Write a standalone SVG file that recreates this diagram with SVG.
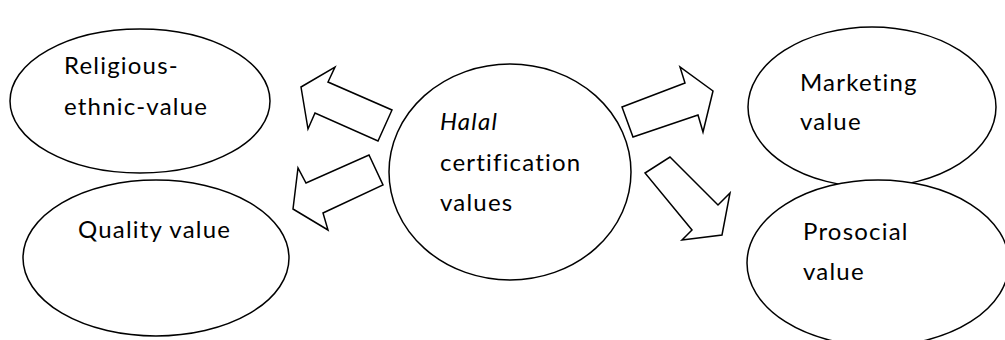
<svg xmlns="http://www.w3.org/2000/svg" width="1005" height="340" viewBox="0 0 1005 340">
<style>
.n{fill:#fff;stroke:#000;stroke-width:1.5}
.a{fill:#fff;stroke:#000;stroke-width:1.5;stroke-linejoin:miter}
text{font-family:Lato,"Open Sans",sans-serif;font-size:24px;letter-spacing:1.2px;fill:#000}
</style>
<rect width="1005" height="340" fill="#fff"/>
<g id="religious"><ellipse class="n" cx="140" cy="101" rx="130" ry="72"/><text x="64" y="74">Religious-</text><text x="64" y="115">ethnic-value</text></g>
<g id="quality"><ellipse class="n" cx="156" cy="258" rx="133" ry="78"/><text x="78" y="238">Quality value</text></g>
<g id="halal"><ellipse class="n" cx="510" cy="172" rx="121" ry="108"/><text x="440" y="130" font-style="italic">Halal</text><text x="440" y="171">certification</text><text x="440" y="211">values</text></g>
<g id="marketing"><ellipse class="n" cx="872" cy="107" rx="124" ry="80"/><text x="800" y="91">Marketing</text><text x="800" y="130">value</text></g>
<g id="prosocial"><ellipse class="n" cx="878" cy="263" rx="131" ry="83"/><text x="803" y="240">Prosocial</text><text x="803" y="280">value</text></g>
<g id="connectors">
<polygon class="a" points="301,87 335,67 328,82 392,110 378,141 315,113 308,129"/>
<polygon class="a" points="293,209 298,168 306,183 369,155 383,185 323,213 328,230"/>
<polygon class="a" points="622,107 685,83 680,67 713,91 703,132 698,115 633,137"/>
<polygon class="a" points="670,157 718,205 730,193 722,235 682,240 692,230 645,173"/>
</g>
</svg>
